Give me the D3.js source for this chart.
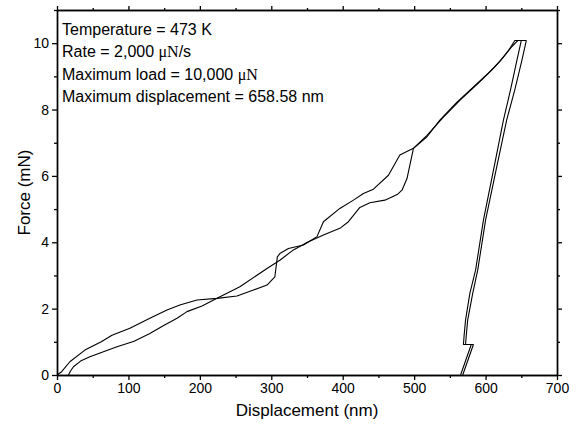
<!DOCTYPE html>
<html>
<head>
<meta charset="utf-8">
<script src="https://cdn.jsdelivr.net/npm/d3@7"></script>
<style>
  body { margin: 0; background: #fff; }
  svg { font-family: "Liberation Sans", Arial, sans-serif; }
</style>
</head>
<body>
<div id="chart"></div>
<script>
// curve A (starts at 0 nm)
var dispA = [0, 6.5, 18, 39, 62, 77, 102, 130, 154, 172, 196, 224, 252, 275, 294, 305, 308.5, 312, 324, 345, 364, 373,
    396, 415, 429, 443, 464, 480, 499, 518, 536, 560, 585, 605, 620, 632, 641,
    650, 644, 635, 625, 611, 597, 586, 578, 572, 570, 569, 580, 565];
var forceA = [0, 0.10, 0.40, 0.75, 1.0, 1.2, 1.41, 1.71, 1.96, 2.11, 2.26, 2.31, 2.38, 2.56, 2.71, 2.96, 3.56, 3.66, 3.81, 3.92, 4.17, 4.62,
    5.02, 5.27, 5.47, 5.60, 6.02, 6.63, 6.83, 7.18, 7.68, 8.22, 8.72, 9.12, 9.45, 9.78, 10.08,
    10.08, 9.5, 8.6, 7.68, 6.17, 4.67, 3.16, 2.46, 1.66, 1.2, 0.92, 0.92, 0];

// curve B (starts at ~16 nm)
var dispB = [16, 19, 23, 33, 46, 65, 84, 108, 130, 150, 168, 182, 203, 224, 256, 294, 312, 331, 350, 373,
    396, 408, 424, 438, 459, 477, 483, 490, 499, 518, 540, 565, 590, 610, 625, 637, 645,
    657, 651, 641, 629.5, 614.6, 600, 589, 582, 575, 573, 572, 583, 568];
var forceB = [0, 0.12, 0.25, 0.42, 0.55, 0.70, 0.85, 1.02, 1.25, 1.5, 1.71, 1.91, 2.08, 2.31, 2.66, 3.21, 3.46, 3.77, 3.99, 4.22,
    4.42, 4.62, 5.05, 5.19, 5.27, 5.45, 5.57, 5.92, 6.83, 7.22, 7.75, 8.3, 8.8, 9.22, 9.58, 9.9, 10.08,
    10.08, 9.5, 8.6, 7.68, 6.17, 4.67, 3.16, 2.46, 1.66, 1.2, 0.92, 0.92, 0];

var xTicks = [0, 100, 200, 300, 400, 500, 600, 700];
var xMinor = [50, 150, 250, 350, 450, 550, 650];
var yTicks = [0, 2, 4, 6, 8, 10];
var yMinor = [1, 3, 5, 7, 9, 11];

var notes = ["Temperature = 473 K", "Rate = 2,000 |\u03bcN|/s", "Maximum load = 10,000 |\u03bcN|", "Maximum displacement = 658.58 nm"];

var W = 576, H = 429;
var plotL = 57, plotR = 557, plotT = 10, plotB = 375;

var svg = d3.select("#chart").append("svg")
    .attr("width", W).attr("height", H);

var x = d3.scaleLinear().domain([0, 700]).range([plotL, plotR]);
var y = d3.scaleLinear().domain([0, 11]).range([plotB, plotT]);

function zip(a, b) {
    return a.map(function(d, i) { return [d, b[i]]; });
}

var line = d3.line()
    .x(function(d) { return x(d[0]); })
    .y(function(d) { return y(d[1]); });

// axes: major and minor, ticks outward on all sides
function addAxis(axis, tr, labels) {
    var g = svg.append("g").attr("transform", tr).call(axis);
    g.select(".domain").attr("stroke-width", 1.4);
    g.selectAll(".tick line").attr("stroke-width", 1.3);
    g.selectAll("text").attr("font-size", 14).attr("fill", "#000");
    if (!labels) g.selectAll("text").remove();
    return g;
}

addAxis(d3.axisBottom(x).tickValues(xTicks).tickSize(5).tickPadding(3).tickSizeOuter(0), "translate(0," + plotB + ")", true);
addAxis(d3.axisBottom(x).tickValues(xMinor).tickSize(3).tickSizeOuter(0), "translate(0," + plotB + ")", false);
addAxis(d3.axisTop(x).tickValues(xTicks).tickSize(4).tickSizeOuter(0), "translate(0," + plotT + ")", false);
addAxis(d3.axisTop(x).tickValues(xMinor).tickSize(2).tickSizeOuter(0), "translate(0," + plotT + ")", false);
addAxis(d3.axisLeft(y).tickValues(yTicks).tickSize(5).tickPadding(3).tickSizeOuter(0), "translate(" + plotL + ",0)", true);
addAxis(d3.axisLeft(y).tickValues(yMinor).tickSize(3).tickSizeOuter(0), "translate(" + plotL + ",0)", false);
addAxis(d3.axisRight(y).tickValues(yTicks).tickSize(5).tickSizeOuter(0), "translate(" + plotR + ",0)", false);
addAxis(d3.axisRight(y).tickValues(yMinor).tickSize(3).tickSizeOuter(0), "translate(" + plotR + ",0)", false);

// curves
[zip(dispA, forceA), zip(dispB, forceB)].forEach(function(c) {
    svg.append("path")
        .datum(c)
        .attr("d", line)
        .attr("fill", "none")
        .attr("stroke", "#000")
        .attr("stroke-width", 1.1)
        .attr("stroke-linejoin", "round");
});

// axis titles
svg.append("text")
    .attr("x", (plotL + plotR) / 2).attr("y", 416)
    .attr("text-anchor", "middle")
    .attr("font-size", 17)
    .text("Displacement (nm)");

svg.append("text")
    .attr("transform", "translate(30," + ((plotT + plotB) / 2) + ") rotate(-90)")
    .attr("text-anchor", "middle")
    .attr("font-size", 17)
    .text("Force (mN)");

// annotation block, mu in serif like the original
notes.forEach(function(s, i) {
    var t = svg.append("text")
        .attr("x", 62).attr("y", 35 + i * 22.3)
        .attr("font-size", 16);
    s.split("|").forEach(function(part, j) {
        var sp = t.append("tspan").text(part);
        if (j % 2 === 1) sp.attr("font-family", "'Liberation Serif', 'Times New Roman', serif");
    });
});
</script>
</body>
</html>
